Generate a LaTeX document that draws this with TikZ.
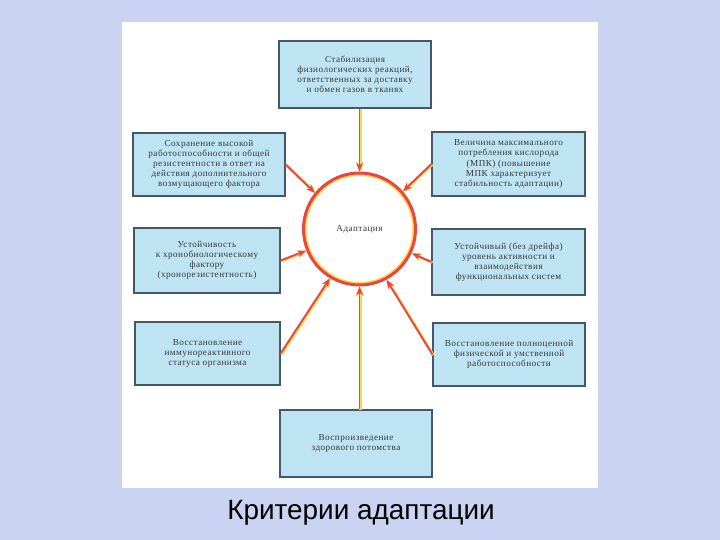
\documentclass[tikz,border=0pt]{standalone}
\usepackage{fontspec}
\setmainfont{Liberation Serif}
\newfontfamily\titlefont{Liberation Sans}
\newfontfamily\boxfont[LetterSpace=5]{Liberation Serif}
\usetikzlibrary{arrows.meta,calc}

\definecolor{backdrop}{RGB}{203,211,242}
\definecolor{boxfill}{RGB}{190,227,243}
\definecolor{boxline}{RGB}{70,88,104}
\definecolor{ringred}{RGB}{232,70,62}
\definecolor{glow}{RGB}{255,214,80}
\definecolor{inktext}{RGB}{55,55,55}

\tikzstyle{crit} = [rectangle, draw=boxline, fill=boxfill, line width=1.2bp, align=center,
  text=inktext, font=\boxfont\fontsize{9.2}{10.2}\selectfont, inner sep=0pt]
\tikzstyle{feed} = [draw=ringred, line width=1.9bp, -{Stealth[length=9bp,width=7bp]},
  preaction={draw=glow, line width=2.4bp, transform canvas={shift={(1.1bp,-0.6bp)}}}]

\begin{document}
\begin{tikzpicture}[x=1bp, y=-1bp]
        \useasboundingbox (0,0) rectangle (720,540);
        \fill[backdrop] (0,0) rectangle (720,540);
        \fill[white] (122,22) rectangle (598,488);

        % Centre
        \draw[glow, line width=3bp] (359.5,229) circle (54.5bp);
        \node[circle, minimum size=112bp, draw=ringred, line width=3bp, text=inktext,
          font=\boxfont\fontsize{9.2}{10.2}\selectfont] (adapt) at (359.5,229) {Адаптация};

        % Criteria
        \node[crit, minimum width=152bp, minimum height=67bp] (top) at (355,74.5)
          {Стабилизация\\физиологических реакций,\\ответственных за доставку\\и обмен газов в тканях};
        \node[crit, minimum width=152bp, minimum height=63bp] (left1) at (209,164.5)
          {Сохранение высокой\\работоспособности и общей\\резистентности в ответ на\\действия дополнительного\\возмущающего фактора};
        \node[crit, minimum width=153bp, minimum height=64bp] (right1) at (508.5,164)
          {Величина максимального\\потребления кислорода\\(МПК) (повышение\\МПК характеризует\\стабильность адаптации)};
        \node[crit, minimum width=146bp, minimum height=65bp] (left2) at (207,260.5)
          {Устойчивость\\к хронобиологическому\\фактору\\(хронорезистентность)};
        \node[crit, minimum width=153bp, minimum height=66bp] (right2) at (508.5,262)
          {Устойчивый (без дрейфа)\\уровень активности и\\взаимодействия\\функциональных систем};
        \node[crit, minimum width=145bp, minimum height=63bp] (left3) at (207.5,353.5)
          {Восстановление\\иммунореактивного\\статуса организма};
        \node[crit, minimum width=152bp, minimum height=63bp] (right3) at (509,354.5)
          {Восстановление полноценной\\физической и умственной\\работоспособности};
        \node[crit, minimum width=152bp, minimum height=67bp] (bottom) at (356,443.5)
          {Воспроизведение\\здорового потомства};

        % Arrows into the circle
        \draw[feed] (adapt.north |- top.south) -- (adapt.north);
        \draw[feed] (left1.east) -- (adapt.141);
        \draw[feed] (right1.west) -- (adapt.41);
        \draw[feed] (left2.east) -- (adapt.202);
        \draw[feed] (right2.west) -- (adapt.335);
        \draw[feed] (left3.east) -- (adapt.239);
        \draw[feed] (right3.west) -- (adapt.298);
        \draw[feed] (adapt.south |- bottom.north) -- (adapt.south);

        \node[font=\titlefont\fontsize{28}{32}\selectfont] (title) at (361,513) {Критерии адаптации};
\end{tikzpicture}
\end{document}
